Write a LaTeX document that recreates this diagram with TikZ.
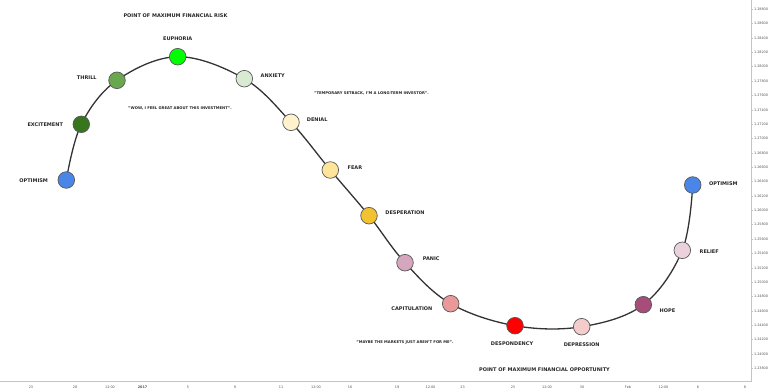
\documentclass[tikz,border=0pt]{standalone}
\usepackage{fontspec}
\setmainfont{DejaVu Sans}
\usetikzlibrary{positioning,backgrounds}
\definecolor{optblue}{HTML}{4A86E8}
\definecolor{excgreen}{HTML}{38761D}
\definecolor{thrgreen}{HTML}{6AA84F}
\definecolor{euphgreen}{HTML}{00FF00}
\definecolor{anxgreen}{HTML}{D9EAD3}
\definecolor{denyellow}{HTML}{FFF2CC}
\definecolor{fearyellow}{HTML}{FFE599}
\definecolor{despgold}{HTML}{F1C232}
\definecolor{panicpink}{HTML}{D5A6BD}
\definecolor{caprose}{HTML}{EA9999}
\definecolor{dspdred}{HTML}{FF0000}
\definecolor{dprspink}{HTML}{F4CCCC}
\definecolor{hopeplum}{HTML}{A64D79}
\definecolor{relpink}{HTML}{EAD1DC}
\definecolor{curvegray}{HTML}{333333}
\definecolor{axisgray}{HTML}{C4C4C4}
\definecolor{ticktext}{HTML}{555555}

\begin{document}
\begin{tikzpicture}[x=1pt, y=-1pt,
  stage/.style={circle, draw=black!65, line width=0.7pt, minimum size=16.6pt, inner sep=0pt},
  lbl/.style={font=\fontsize{5}{6}\selectfont\bfseries, text=black!85, inner sep=0.5pt},
  quote/.style={font=\fontsize{3.75}{4.5}\selectfont\bfseries, text=black!85, inner sep=0pt},
  headline/.style={font=\fontsize{5}{6}\selectfont\bfseries, text=black!85, inner sep=0pt},
  axlbl/.style={font=\fontsize{3.4}{4}\selectfont, text=ticktext, inner sep=0pt},
  moodline/.style={line width=1.3pt, color=curvegray}
]
\useasboundingbox (0,0) rectangle (768,390);

% chart frame
\draw[axisgray, line width=0.8pt] (0,381.5) -- (751,381.5) -- (751,0);
\foreach \v [count=\i from 0] in {1.28800,1.28600,1.28400,1.28200,1.28000,1.27800,1.27600,1.27400,1.27200,1.27000,1.26800,1.26600,1.26400,1.26200,1.26000,1.25800,1.25600,1.25400,1.25200,1.25000,1.24800,1.24600,1.24400,1.24200,1.24000,1.23800}{
  \draw[axisgray, line width=0.5pt] (751,{9.3+14.36*\i}) -- ++(2.2,0);
  \node[axlbl, anchor=west] (ylbl\i) at (753.8,{9.3+14.36*\i}) {\v};
}
\foreach \x/\t [count=\j] in {31/23, 75/28, 110/12:00, 142.5/{\bfseries 2017}, 188/5, 235/9, 281/11, 316/12:00, 350/16, 397/19, 430.5/12:00, 462.5/23, 513/25, 547/12:00, 582/30, 628/Feb, 663.5/12:00, 698/6, 745/8}{
  \node[axlbl] (xlbl\j) at (\x,387.3) {\t};
}

% the cycle of emotions
\node[stage, fill=optblue] (opt1) at (66.3,180) {};
\node[stage, fill=excgreen] (exc) at (81.3,124.3) {};
\node[stage, fill=thrgreen] (thr) at (117,80.3) {};
\node[stage, fill=euphgreen] (euph) at (177.7,56.7) {};
\node[stage, fill=anxgreen] (anx) at (244.3,78.7) {};
\node[stage, fill=denyellow] (den) at (291,122.3) {};
\node[stage, fill=fearyellow] (fear) at (330.3,170) {};
\node[stage, fill=despgold] (desp) at (369,215.7) {};
\node[stage, fill=panicpink] (pan) at (405,262.7) {};
\node[stage, fill=caprose] (cap) at (450.7,303.7) {};
\node[stage, fill=dspdred] (dspd) at (515,325.7) {};
\node[stage, fill=dprspink] (dprs) at (581.7,326.7) {};
\node[stage, fill=hopeplum] (hope) at (643.3,304.7) {};
\node[stage, fill=relpink] (rel) at (682.3,250.3) {};
\node[stage, fill=optblue] (opt2) at (692.7,185) {};

\begin{scope}[on background layer]
\draw[moodline] plot[smooth, tension=0.6] coordinates {(opt1.center) (exc.center) (thr.center) (euph.center) (anx.center) (den.center) (fear.center) (desp.center) (pan.center) (cap.center) (dspd.center) (dprs.center) (hope.center) (rel.center) (opt2.center)};
\end{scope}

% stage names
\node[lbl, left=9pt of opt1, yshift=-1pt] (opt1lbl) {OPTIMISM};
\node[lbl, left=9pt of exc] (exclbl) {EXCITEMENT};
\node[lbl, left=11pt of thr, yshift=2.5pt] (thrlbl) {THRILL};
\node[lbl, above=6.5pt of euph] (euphlbl) {EUPHORIA};
\node[lbl, right=7pt of anx, yshift=3pt] (anxlbl) {ANXIETY};
\node[lbl, right=6.5pt of den, yshift=3pt] (denlbl) {DENIAL};
\node[lbl, right=8pt of fear, yshift=2.5pt] (fearlbl) {FEAR};
\node[lbl, right=7pt of desp, yshift=3.5pt] (desplbl) {DESPERATION};
\node[lbl, right=8.5pt of pan, yshift=4pt] (panlbl) {PANIC};
\node[lbl, left=9pt of cap, yshift=-5pt] (caplbl) {CAPITULATION};
\node[lbl, below=7pt of dspd, xshift=-3pt] (dspdlbl) {DESPONDENCY};
\node[lbl, below=6.5pt of dprs] (dprslbl) {DEPRESSION};
\node[lbl, right=7pt of hope, yshift=-6pt] (hopelbl) {HOPE};
\node[lbl, right=8pt of rel, yshift=-1pt] (rellbl) {RELIEF};
\node[lbl, right=7pt of opt2, yshift=1pt] (opt2lbl) {OPTIMISM};

% quotes and headlines
\node[quote] (wowq) at (180,108.5) {"WOW, I FEEL GREAT ABOUT THIS INVESTMENT".};
\node[quote] (setbackq) at (371.5,93.5) {"TEMPORARY SETBACK, I'M A LONG-TERM INVESTOR".};
\node[quote] (maybeq) at (405,342.3) {"MAYBE THE MARKETS JUST AREN'T FOR ME".};
\node[headline] (riskhead) at (175.5,16) {POINT OF MAXIMUM FINANCIAL RISK};
\node[headline] (opphead) at (544.5,369.5) {POINT OF MAXIMUM FINANCIAL OPPORTUNITY};
\end{tikzpicture}
\end{document}
